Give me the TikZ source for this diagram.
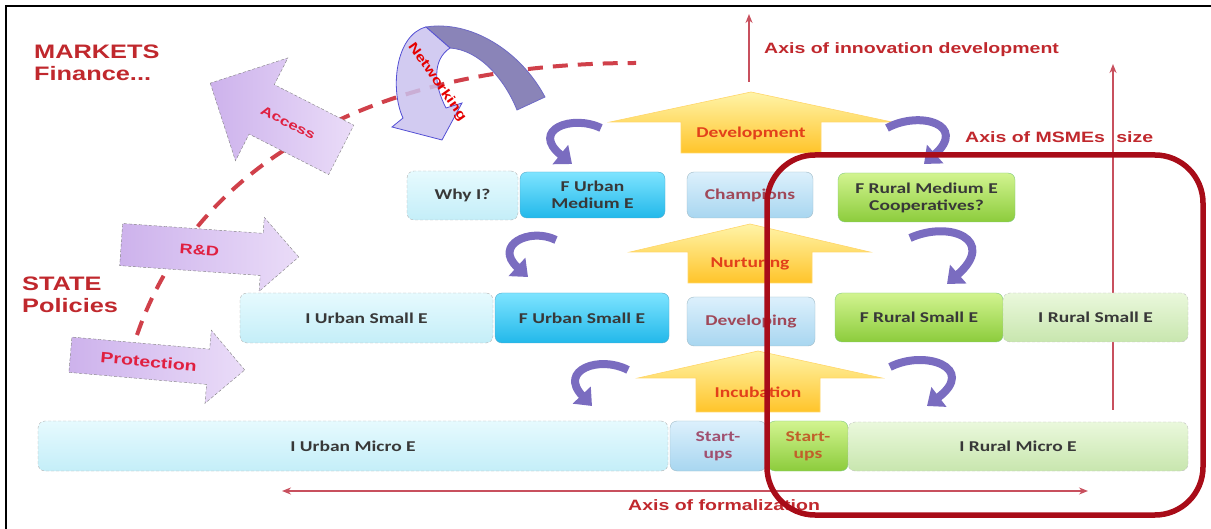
\documentclass[tikz,border=0pt]{standalone}
\usepackage{fontspec}
\newfontfamily\boxfont[FakeStretch=1.3]{Carlito}
\newfontfamily\redfont[FakeStretch=1.3]{Liberation Sans}
\usetikzlibrary{shapes.arrows,arrows.meta}

\definecolor{titlered}{HTML}{C0282D}
\definecolor{axisred}{HTML}{C8505E}
\definecolor{dashred}{HTML}{D0404A}
\definecolor{curlblue}{HTML}{7A6CC0}
\definecolor{framered}{HTML}{A80C18}
\definecolor{labelgray}{HTML}{383838}
\definecolor{stagered}{HTML}{A04858}
\definecolor{startred}{HTML}{A05070}
\definecolor{startorange}{HTML}{C0602A}
\definecolor{yeltext}{HTML}{E2401A}
\definecolor{polred}{HTML}{E02040}
\definecolor{polleft}{HTML}{CDB2EC}
\definecolor{polright}{HTML}{EADCF8}
\definecolor{iurbtop}{HTML}{E6FAFE}
\definecolor{iurbbot}{HTML}{C4EEF8}
\definecolor{furbtop}{HTML}{7EE4FF}
\definecolor{furbbot}{HTML}{22B8EA}
\definecolor{stagetop}{HTML}{DCF0FC}
\definecolor{stagebot}{HTML}{A8D6F0}
\definecolor{frurtop}{HTML}{D2F490}
\definecolor{frurbot}{HTML}{8CCC3C}
\definecolor{irurtop}{HTML}{EAF8DC}
\definecolor{irurbot}{HTML}{C8E6AE}
\definecolor{yeltop}{HTML}{FFF4A8}
\definecolor{yelbot}{HTML}{FFC42A}
\definecolor{netdark}{HTML}{8A84B8}
\definecolor{netlight}{HTML}{CAC2EE}

\tikzset{
  ent/.style={rounded corners=7pt,align=center,inner sep=2pt,text=labelgray,
    font=\boxfont\bfseries\fontsize{15pt}{17pt}\selectfont},
  iurb/.style={ent,densely dashed,draw=gray!60,top color=iurbtop,bottom color=iurbbot},
  furb/.style={ent,draw=cyan!60!gray,top color=furbtop,bottom color=furbbot},
  stage/.style={ent,draw=cyan!30!gray!70,top color=stagetop,bottom color=stagebot,text=stagered},
  frur/.style={ent,draw=green!40!gray!70,top color=frurtop,bottom color=frurbot},
  irur/.style={ent,densely dashed,draw=gray!50,top color=irurtop,bottom color=irurbot},
  pol/.style={single arrow,densely dashed,draw=gray,left color=polleft,right color=polright,
    text=polred,inner xsep=2pt,single arrow tip angle=90,
    font=\redfont\bfseries\fontsize{15pt}{17pt}\selectfont},
  yarrow/.style={draw=yelbot!70,line width=0.6pt,top color=yeltop,bottom color=yelbot},
  ylabel/.style={text=yeltext,font=\boxfont\bfseries\fontsize{15pt}{17pt}\selectfont},
  curl/.style={draw=curlblue,line width=8pt,-{Triangle[width=24pt,length=15pt]}},
  axis/.style={draw=axisred,line width=1.6pt},
  axislbl/.style={text=titlered,inner sep=0pt,font=\redfont\bfseries\fontsize{15pt}{17pt}\selectfont},
  title/.style={text=titlered,inner sep=0pt,align=left,font=\redfont\bfseries\fontsize{19.5pt}{22pt}\selectfont}
}

\begin{document}
\begin{tikzpicture}[x=1pt,y=-1pt]
  \useasboundingbox (0,0) rectangle (1211,529);
  \draw[line width=1.5pt] (1211,6) -- (6,6) -- (6,529);

  % titles
  \node[title,anchor=north west] (markets) at (34,45) {MARKETS\\Finance...};
  \node[title,anchor=north west] (state) at (22,277) {STATE\\Policies};

  % dashed curve
  \draw[dashred,line width=4pt,dash pattern=on 15pt off 10pt] (137,335) .. controls (190,180) and (350,63) .. (636,63);

  % policy arrows
  \node[pol,shape border rotate=180,rotate=-27,minimum height=147pt,inner ysep=23pt,
    single arrow head extend=30pt,anchor=tip,font=\redfont\bfseries\fontsize{13pt}{15pt}\selectfont] (access) at (210,83) {Access};
  \node[pol,rotate=-4,minimum height=178pt,inner ysep=16pt,single arrow head extend=16pt,
    anchor=tip,font=\redfont\bfseries\fontsize{14pt}{16pt}\selectfont] (rnd) at (299,257) {R\&D};
  \node[pol,rotate=-5,minimum height=175pt,inner ysep=12pt,single arrow head extend=19pt,
    anchor=tip] (protect) at (245,370) {Protection};

  % networking arrow
  \fill[netdark,draw=netdark!80!blue,line width=0.8pt] (545,97) .. controls (520,50) and (470,20) .. (426,27)
    -- (450,48) .. controls (480,50) and (505,80) .. (517,110) -- cycle;
  \fill[netlight,fill opacity=0.85,draw=netdark!60!blue,line width=0.8pt] (426,27) .. controls (395,35) and (390,90) .. (403,118)
    -- (392,127) -- (442,140) -- (462,103) -- (446,108) .. controls (434,85) and (432,60) .. (450,48) -- cycle;
  \node[text=red!90!black,rotate=-55,inner sep=0pt,font=\redfont\bfseries\fontsize{13pt}{15pt}\selectfont] (network) at (437,82) {Networking};

  % axes
  \coordinate (innovlo) at (749,82);
  \coordinate (innovhi) at (749,14);
  \coordinate (sizelo) at (1113,410);
  \coordinate (sizehi) at (1113,64);
  \coordinate (formleft) at (282,491);
  \coordinate (formright) at (1088,491);
  \draw[axis,-{Stealth[length=9pt,width=7pt]}] (innovlo) -- (innovhi);
  \draw[axis,-{Stealth[length=9pt,width=7pt]}] (sizelo) -- (sizehi);
  \draw[axis,{Stealth[length=9pt,width=7pt]}-{Stealth[length=9pt,width=7pt]}] (formleft) -- (formright);
  \node[axislbl,anchor=west] (innovlbl) at (764,50) {Axis of innovation development};
  \node[axislbl,anchor=west] (sizelbl) at (965,137) {Axis of MSMEs\hspace{6pt} size};
  \node[axislbl,anchor=west] (formlbl) at (628,505) {Axis of formalization};

  % stage arrows
  \shade[yarrow] (681,153) -- (681,122) -- (610,122) -- (751,92) -- (892,122) -- (821,122) -- (821,153) -- cycle;
  \shade[yarrow] (688,283) -- (688,252) -- (630,252) -- (750,224) -- (870,252) -- (812,252) -- (812,283) -- cycle;
  \shade[yarrow] (696,412) -- (696,378) -- (638,378) -- (758,351) -- (882,378) -- (820,378) -- (820,412) -- cycle;
  \node[ylabel] (develop) at (751,133) {Development};
  \node[ylabel] (nurture) at (750,264) {Nurturing};
  \node[ylabel] (incub) at (758,392) {Incubation};

  % Row medium
  \node[iurb,minimum width=111pt,minimum height=49pt] (whyi) at (462.5,195.5) {Why I?};
  \node[furb,minimum width=145pt,minimum height=46pt] (furbmed) at (592.5,195) {F Urban\\Medium E};
  \node[stage,minimum width=126pt,minimum height=46pt] (champ) at (750,195) {Champions};
  \node[frur,minimum width=177pt,minimum height=49pt] (frurmed) at (926.5,197.5) {F Rural Medium E\\Cooperatives?};
  % Row small
  \node[iurb,minimum width=253pt,minimum height=50pt] (iurbsmall) at (366.5,318) {I Urban Small E};
  \node[furb,minimum width=174pt,minimum height=50pt] (furbsmall) at (582,318) {F Urban Small E};
  \node[stage,minimum width=128pt,minimum height=49pt] (devel) at (751,321.5) {Developing};
  \node[frur,minimum width=168pt,minimum height=49pt] (frursmall) at (919,317.5) {F Rural Small E};
  \node[irur,minimum width=185pt,minimum height=49pt] (irursmall) at (1095.5,317.5) {I Rural Small E};
  % Row micro
  \node[iurb,minimum width=630pt,minimum height=50pt] (iurbmicro) at (353,446) {I Urban Micro E};
  \node[stage,minimum width=96pt,minimum height=50pt,text=startred] (startu) at (718,446) {Start-\\ups};
  \node[frur,minimum width=80pt,minimum height=50pt,text=startorange] (startr) at (808,446) {Start-\\ups};
  \node[irur,minimum width=340pt,minimum height=49pt] (irurmicro) at (1018,446.5) {I Rural Micro E};

  % curls
  \draw[curl] (601,128) .. controls (572,114) and (530,130) .. (572,164);
  \draw[curl] (556,240) .. controls (530,227) and (493,245) .. (528,277);
  \draw[curl] (628,370) .. controls (600,355) and (558,370) .. (592,406);
  \draw[curl] (887,128) .. controls (920,110) and (968,125) .. (924,164);
  \draw[curl] (910,238) .. controls (950,220) and (997,240) .. (947,284);
  \draw[curl] (890,367) .. controls (925,349) and (977,368) .. (927,406);

  % rural frame
  \draw[framered,line width=5.5pt,rounded corners=48pt] (767,155) rectangle (1203,515);
\end{tikzpicture}
\end{document}
